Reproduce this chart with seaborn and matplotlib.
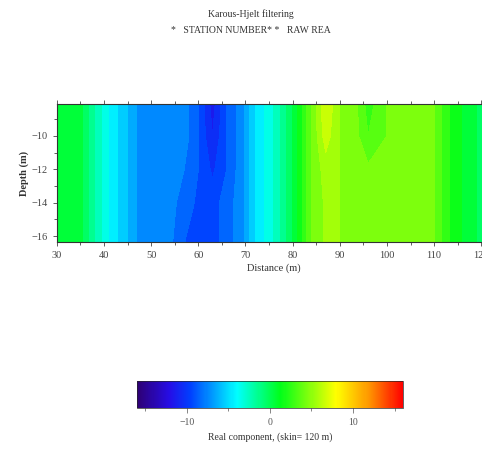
import numpy as np
import matplotlib
matplotlib.use("Agg")
import matplotlib.pyplot as plt
from matplotlib.colors import LinearSegmentedColormap
from matplotlib.ticker import MultipleLocator
import seaborn as sns

# distance (m) and depth (m) of the gridded section
distance = [30, 35, 38, 41, 44, 47, 52, 57, 60, 63, 66, 69, 72, 75, 78,
            81, 84, 87, 90, 93, 96, 100, 105, 110, 114, 118, 122]
depth = [-8, -10, -12, -14, -16.5]

# real component values read per depth row
row_8 = [0.5, 0.5, -2, -4, -5.5, -7, -7, -7.5, -9, -11.5, -9, -7.5, -5, -3.5, -1.5,
         1, 4, 7, 5, 4.5, 2.5, 4, 4.5, 4, 1.5, 0.5, -1.5]
row_10 = [0.5, 0.5, -2, -4, -5.5, -7, -7, -7.5, -9, -11, -9, -7.5, -5, -3.5, -1.5,
          1, 4, 6.5, 5, 4.5, 3, 4, 4.5, 4, 1.5, 0.5, -1.5]
row_12 = [0.5, 0.5, -2, -4, -5.5, -7, -7, -8, -9, -10.2, -9, -7.5, -5, -3.5, -1.5,
          1, 4, 5.5, 5, 4.8, 4.2, 4.5, 4.5, 4, 1.5, 0.5, -1.5]
row_14 = [0.5, 0.5, -2, -4, -5.5, -7, -7, -8.5, -9.2, -9.5, -8.5, -7.5, -5, -3.5, -1.5,
          1, 4, 5.2, 5, 5, 5, 4.5, 4.5, 4, 1.5, 0.5, -1.5]
row_16 = [0.5, 0.5, -2, -4, -5.5, -7, -7, -9, -9.5, -9.5, -8.5, -7.5, -5, -3.5, -1.5,
          1, 4, 5.2, 5, 5, 5, 4.5, 4.5, 4, 1.5, 0.5, -1.5]

cbar_ticks = [-10, 0, 10]

values = np.array([row_8, row_10, row_12, row_14, row_16])

sns.set_style("ticks")
plt.rcParams['font.family'] = ['Liberation Serif', 'DejaVu Serif']

cmap = LinearSegmentedColormap.from_list("surfer_rainbow", [
    (0.00, (0.18, 0.0, 0.45)),
    (0.12, (0.15, 0.05, 0.9)),
    (0.20, (0.0, 0.25, 1.0)),
    (0.375, (0.0, 1.0, 1.0)),
    (0.54, (0.0, 1.0, 0.1)),
    (0.75, (1.0, 1.0, 0.0)),
    (0.87, (1.0, 0.6, 0.0)),
    (1.00, (1.0, 0.0, 0.0)),
])

fig = plt.figure(figsize=(4.82, 4.62), dpi=100)
ax = fig.add_axes([0.118, 0.476, 0.90, 0.299])

levels = np.arange(-16, 16.5, 1)
cs = ax.contourf(distance, depth, values, levels=levels, cmap=cmap, vmin=-16, vmax=16)

ax.set_xlim(30, 122)
ax.set_ylim(-16.36, -8.08)
ax.xaxis.set_major_locator(MultipleLocator(10))
ax.xaxis.set_minor_locator(MultipleLocator(5))
ax.yaxis.set_major_locator(MultipleLocator(2))
ax.yaxis.set_minor_locator(MultipleLocator(1))
ax.tick_params(which='both', top=True, right=True, direction='out', colors='#444444',
               labelsize=7.5, width=0.6)
ax.tick_params(which='major', length=3)
ax.tick_params(which='minor', length=2)
for s in ax.spines.values():
    s.set_linewidth(0.8)
    s.set_color('#333333')
ax.set_xlabel("Distance (m)", fontsize=7.5, color='#333333', labelpad=2)
ax.set_ylabel("Depth (m)", fontsize=7.5, color='#333333', fontweight='bold', labelpad=2)

fig.text(0.52, 0.963, "Karous-Hjelt filtering", ha='center', fontsize=7, color='#333333')
fig.text(0.52, 0.928, "*   STATION NUMBER* *   RAW REA", ha='center', fontsize=7, color='#333333')

cax = fig.add_axes([0.284, 0.117, 0.552, 0.058])
cb = fig.colorbar(plt.cm.ScalarMappable(norm=plt.Normalize(-16, 16), cmap=cmap),
                  cax=cax, orientation='horizontal')
cb.set_ticks(cbar_ticks)
cb.ax.xaxis.set_minor_locator(MultipleLocator(5))
cb.ax.tick_params(which='both', colors='#555555', labelsize=7, width=0.5)
cb.ax.tick_params(which='minor', length=2)
cb.outline.set_linewidth(0.5)
cb.set_label("Real component, (skin= 120 m)", fontsize=7, color='#333333')

fig.savefig("out.png", dpi=100)
